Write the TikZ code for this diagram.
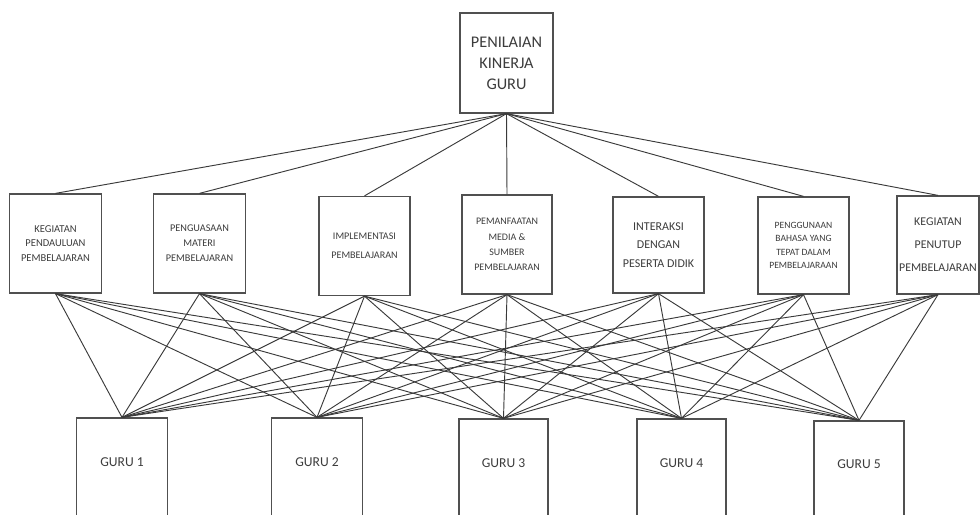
\documentclass[tikz,border=0pt]{standalone}
\usepackage{fontspec}
\setmainfont{Carlito}
\definecolor{boxgray}{HTML}{505050}
\definecolor{linegray}{HTML}{3A3A3A}
\definecolor{txtgray}{HTML}{3C3C3C}
\newcommand{\fs}[2]{\fontsize{#1}{#2}\selectfont}
\begin{document}
\begin{tikzpicture}[x=0.75pt,y=-0.75pt,
  box/.style={draw=boxgray, line width=0.95pt, inner sep=0pt, align=center,
              text=txtgray, minimum width=69pt, minimum height=74.25pt},
  topbox/.style={box, minimum width=69.75pt, minimum height=75pt},
  gurubox/.style={draw=boxgray, line width=0.95pt, inner sep=0pt,
                  minimum width=68pt, minimum height=90pt},
  gurutext/.style={text=txtgray, inner sep=0pt, font=\fs{10.2}{12}},
  link/.style={draw=linegray, line width=0.7pt}]
\useasboundingbox (0,0) rectangle (980,514);
\clip (0,0) rectangle (980,514);

% top criterion
\node[topbox, font=\fs{12.2}{15.75}] (top) at (506.5,63)
  {PENILAIAN\\KINERJA\\GURU};

% assessment aspects
\node[box, font=\fs{7.9}{10.9}] (m1) at (55.5,243.5)
  {KEGIATAN\\PENDAULUAN\\PEMBELAJARAN};
\node[box, font=\fs{7.7}{11.25}] (m2) at (199.5,243.5)
  {PENGUASAAN\\MATERI\\PEMBELAJARAN};
\node[box, font=\fs{7.6}{14.25}, minimum width=68.25pt] (m3) at (364.5,246)
  {IMPLEMENTASI\\PEMBELAJARAN};
\node[box, font=\fs{7.5}{11.5}, minimum width=67.5pt] (m4) at (507,244.5)
  {PEMANFAATAN\\MEDIA \&\\SUMBER\\PEMBELAJARAN};
\node[box, font=\fs{9}{13.9}, minimum width=68.25pt, minimum height=72pt] (m5) at (658.5,245)
  {INTERAKSI\\DENGAN\\PESERTA DIDIK};
\node[box, font=\fs{7.2}{10}, minimum width=68.25pt, minimum height=72.75pt] (m6) at (803.5,245.5)
  {PENGGUNAAN\\BAHASA YANG\\TEPAT DALAM\\PEMBELAJARAAN};
\node[box, font=\fs{8.9}{17.25}, minimum width=61.5pt, minimum height=73.5pt] (m7) at (938,245)
  {KEGIATAN\\PENUTUP\\PEMBELAJARAN};

% teachers
\node[gurubox] (g1) at (122,478) {};
\node[gurubox] (g2) at (317,478) {};
\node[gurubox, minimum width=66.75pt] (g3) at (503.5,479) {};
\node[gurubox, minimum width=66.75pt] (g4) at (681.5,479) {};
\node[gurubox, minimum width=67.5pt] (g5) at (859,481) {};
\node[gurutext] (g1t) at (122,462) {GURU 1};
\node[gurutext] (g2t) at (317,462) {GURU 2};
\node[gurutext] (g3t) at (503.5,463) {GURU 3};
\node[gurutext] (g4t) at (681.5,463) {GURU 4};
\node[gurutext] (g5t) at (859,464) {GURU 5};

% criterion to aspects
\foreach \m in {m1,m2,m3,m4,m5,m6,m7}
  \draw[link] (top.south) -- (\m.north);

% every aspect to every teacher
\foreach \m in {m1,m2,m3,m4,m5,m6,m7}
  \foreach \g in {g1,g2,g3,g4,g5}
    \draw[link] (\m.south) -- (\g.north);
\end{tikzpicture}
\end{document}
